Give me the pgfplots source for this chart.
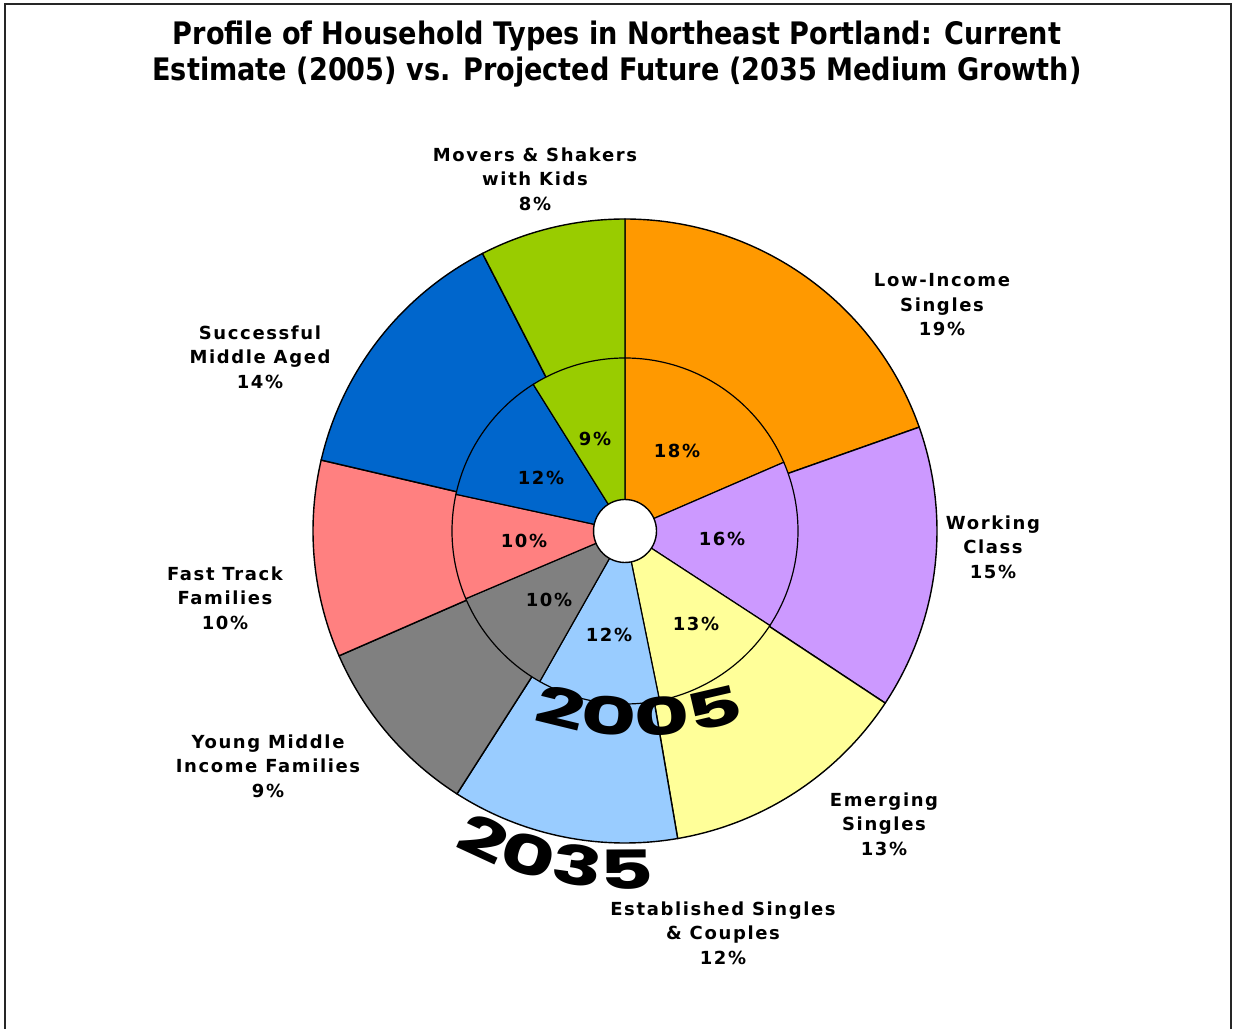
\documentclass[border=0pt]{standalone}
\usepackage{pgfplots}
\pgfplotsset{compat=1.18}
\usepackage{pgfplotstable}
\usetikzlibrary{decorations.text}
\usepackage{fontspec}
\setmainfont{DejaVu Sans}
\newfontfamily\titlefont[FakeStretch=0.875]{DejaVu Sans}
\newfontfamily\lblfont[LetterSpace=9]{DejaVu Sans}
\newfontfamily\wordartA[FakeStretch=1.65]{Poppins}
\newfontfamily\wordartB[FakeStretch=1.55]{Poppins}
\definecolor{cOrange}{HTML}{FF9900}
\definecolor{cLav}{HTML}{CC99FF}
\definecolor{cYel}{HTML}{FFFF99}
\definecolor{cLB}{HTML}{99CCFF}
\definecolor{cGray}{HTML}{808080}
\definecolor{cSalmon}{HTML}{FF8080}
\definecolor{cBlue}{HTML}{0066CC}
\definecolor{cGreen}{HTML}{99CC00}
% shares in percent, clockwise from 12 o'clock
\pgfplotstableread{
p2035 p2005 col
19.6  18.5  cOrange
14.7  15.7  cLav
13.0  12.6  cYel
11.75 11.4  cLB
9.4   10.4  cGray
10.2  9.8   cSalmon
13.8  12.7  cBlue
7.55  8.9   cGreen
}\shares
\newcommand{\lbl}{\lblfont\bfseries\fontsize{9}{12.25}\selectfont}
\begin{document}
\begin{tikzpicture}
\begin{axis}[hide axis, x=0.5pt, y=0.5pt, xmin=0, xmax=1233, ymin=0, ymax=1029,
  clip=false, scale only axis, anchor=south west, at={(0,0)}]
% frame
\addplot[draw=black!85, line width=1pt] coordinates {(5,0) (5,1024.5) (1231,1024.5) (1231,0)};
% outer ring (2035)
\def\cum{0}
\pgfplotsforeachungrouped \i in {0,...,7}{%
  \pgfplotstablegetelem{\i}{p2035}\of\shares \let\pv\pgfplotsretval
  \pgfplotstablegetelem{\i}{col}\of\shares \let\cc\pgfplotsretval
  \pgfmathsetmacro\aS{90-3.6*\cum}%
  \pgfmathsetmacro\cum{\cum+\pv}%
  \pgfmathsetmacro\aE{90-3.6*\cum}%
  \edef\temp{\noexpand\addplot[fill=\cc, draw=black, line width=0.7pt, domain=\aE:\aS, samples=80] ({625+312*cos(x)},{498+312*sin(x)}) -- (axis cs:625,498) -- cycle;}%
  \temp
}
% inner ring (2005)
\def\cum{0}
\pgfplotsforeachungrouped \i in {0,...,7}{%
  \pgfplotstablegetelem{\i}{p2005}\of\shares \let\pv\pgfplotsretval
  \pgfplotstablegetelem{\i}{col}\of\shares \let\cc\pgfplotsretval
  \pgfmathsetmacro\aS{90-3.6*\cum}%
  \pgfmathsetmacro\cum{\cum+\pv}%
  \pgfmathsetmacro\aE{90-3.6*\cum}%
  \edef\temp{\noexpand\addplot[fill=\cc, draw=black, line width=0.6pt, domain=\aE:\aS, samples=60] ({625+173*cos(x)},{498+173*sin(x)}) -- (axis cs:625,498) -- cycle;}%
  \temp
}
% hole
\addplot[fill=white, draw=black, line width=0.7pt, domain=0:360, samples=60] ({625+31.5*cos(x)},{498+31.5*sin(x)}) -- cycle;
% title
\node[align=center, font=\titlefont\bfseries\fontsize{15.5}{18}\selectfont] at (axis cs:617,975)
  {Profile of Household Types in Northeast Portland: Current\\Estimate (2005) vs. Projected Future (2035 Medium Growth)};
% outer labels
\node[align=center, font=\lbl] at (axis cs:535,850) {Movers \& Shakers\\with Kids\\8\%};
\node[align=center, font=\lbl] at (axis cs:942,724) {Low-Income\\Singles\\19\%};
\node[align=center, font=\lbl] at (axis cs:993,482) {Working\\Class\\15\%};
\node[align=center, font=\lbl] at (axis cs:884,205) {Emerging\\Singles\\13\%};
\node[align=center, font=\lbl] at (axis cs:723,96) {Established Singles\\\& Couples\\12\%};
\node[align=center, font=\lbl] at (axis cs:268,263) {Young Middle\\Income Families\\9\%};
\node[align=center, font=\lbl] at (axis cs:225,431) {Fast Track\\Families\\10\%};
\node[align=center, font=\lbl] at (axis cs:260,672) {Successful\\Middle Aged\\14\%};
% inner labels
\node[font=\lbl] at (axis cs:677,578) {18\%};
\node[font=\lbl] at (axis cs:722,490) {16\%};
\node[font=\lbl] at (axis cs:696,405) {13\%};
\node[font=\lbl] at (axis cs:609,394) {12\%};
\node[font=\lbl] at (axis cs:549,429) {10\%};
\node[font=\lbl] at (axis cs:524,488) {10\%};
\node[font=\lbl] at (axis cs:541,551) {12\%};
\node[font=\lbl] at (axis cs:595,590) {9\%};
% curved year labels
\path[decorate, decoration={text along path, text align=center,
   text={|\wordartA\bfseries\fontsize{26}{26}\selectfont|2005}}]
   (axis cs:491.1,325.8) arc[start angle=-115, end angle=-65, radius=175pt];
\path[decorate, decoration={text along path, text align=center,
   text={|\wordartB\bfseries\fontsize{27}{27}\selectfont|2035}}]
   (axis cs:308.9,329.9) arc[start angle=-152, end angle=-52, radius=179pt];
\end{axis}
\pgfresetboundingbox
\path[use as bounding box] (0,0) rectangle (616.5pt,514.5pt);
\end{tikzpicture}
\end{document}
